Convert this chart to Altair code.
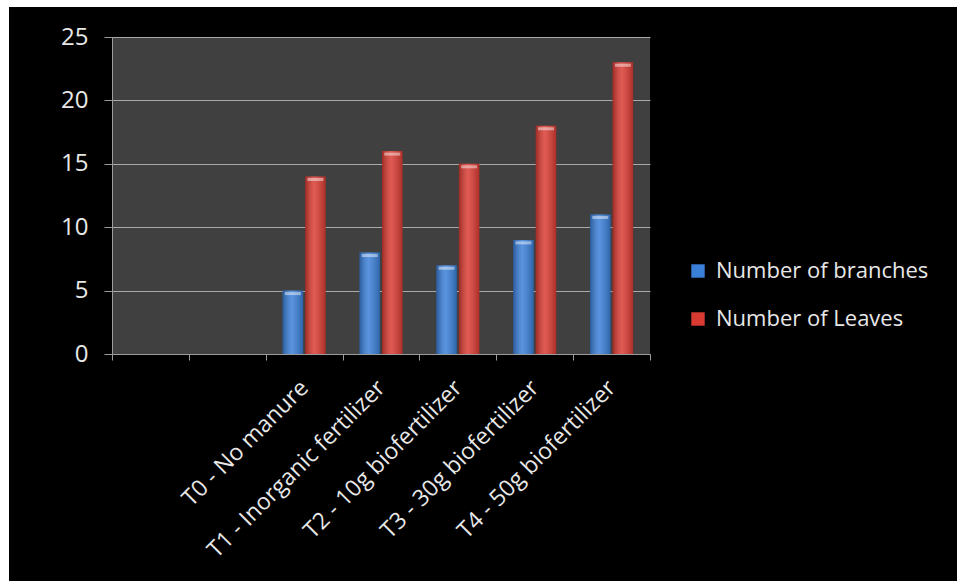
import altair as alt
import pandas as pd

blank_slots = [" ", "  "]
treatments = [
    "T0 - No manure",
    "T1 - Inorganic fertilizer",
    "T2 - 10g biofertilizer",
    "T3 - 30g biofertilizer",
    "T4 - 50g biofertilizer",
]
branches = [5, 8, 7, 9, 11]
leaves = [14, 16, 15, 18, 23]
series = ["Number of branches", "Number of Leaves"]
colors = ["#3a7fd8", "#d93b32"]
y_ticks = [0, 5, 10, 15, 20, 25]

rows = []
for t, b, l in zip(treatments, branches, leaves):
    rows.append({"treatment": t, "series": series[0], "value": b})
    rows.append({"treatment": t, "series": series[1], "value": l})
df = pd.DataFrame(rows)

W, H = 538, 317
AXIS_GREY = "#9c9c9c"
TEXT = "#e8e8e8"
FONT = "Open Sans"

x_enc = alt.X(
    "treatment:N",
    sort=None,
    scale=alt.Scale(domain=blank_slots + treatments, paddingInner=0, paddingOuter=0),
    axis=alt.Axis(
        title=None, labelAngle=-45, labelAlign="right", labelBaseline="middle",
        labelFontSize=23, labelColor=TEXT, labelFont=FONT, tickBand="extent",
        tickSize=6, tickColor=AXIS_GREY, domainColor=AXIS_GREY, labelPadding=24,
        grid=False, labelLimit=400,
    ),
)
xo_enc = alt.XOffset(
    "series:N", scale=alt.Scale(domain=series, paddingInner=0.09, paddingOuter=0.75)
)
y_enc = alt.Y(
    "value:Q",
    scale=alt.Scale(domain=[0, 25]),
    axis=alt.Axis(
        values=y_ticks, title=None, grid=True, gridColor="#a8a8a8", gridWidth=1,
        tickSize=8, tickColor=AXIS_GREY, domainColor=AXIS_GREY,
        labelFontSize=24, labelColor=TEXT, labelFont=FONT, labelPadding=16,
    ),
)

bars = alt.Chart(df).mark_bar().encode(
    x=x_enc, xOffset=xo_enc, y=y_enc,
    color=alt.Color(
        "series:N",
        scale=alt.Scale(domain=series, range=colors),
        legend=alt.Legend(
            title=None, orient="none", legendX=575, legendY=223,
            symbolType="square", symbolSize=180, symbolStrokeWidth=0,
            labelFontSize=22, labelColor=TEXT, labelFont=FONT, labelLimit=400,
            rowPadding=26, labelOffset=7,
        ),
    ),
)

sheen = alt.Chart(df).mark_bar(
    fill=alt.Gradient(
        gradient="linear", x1=0, x2=1, y1=0, y2=0,
        stops=[
            alt.GradientStop(color="rgba(0,0,0,0.28)", offset=0),
            alt.GradientStop(color="rgba(255,255,255,0.16)", offset=0.45),
            alt.GradientStop(color="rgba(0,0,0,0.22)", offset=1),
        ],
    )
).encode(x=x_enc, xOffset=xo_enc, y=y_enc)

caps = alt.Chart(df).mark_tick(
    size=16, thickness=3, color="white", opacity=0.45, yOffset=3
).encode(x=x_enc, xOffset=xo_enc, y=y_enc)

frame = pd.DataFrame({"k": [0]})
left_strip = alt.Chart(frame).mark_rect(color="white").encode(
    x=alt.value(-112), x2=alt.value(-103), y=alt.value(-37), y2=alt.value(544)
)
top_strip = alt.Chart(frame).mark_rect(color="white").encode(
    x=alt.value(-112), x2=alt.value(845), y=alt.value(-37), y2=alt.value(-30)
)

chart = alt.layer(left_strip, top_strip, bars, sheen, caps).properties(
    width=W, height=H,
    background="black",
    autosize=alt.AutoSizeParams(type="none"),
    padding={"left": 112, "top": 37, "right": 307, "bottom": 227},
).configure_view(fill="#404040", strokeWidth=0)

chart.save("out.html", embed_options={"renderer": "svg", "actions": False})
